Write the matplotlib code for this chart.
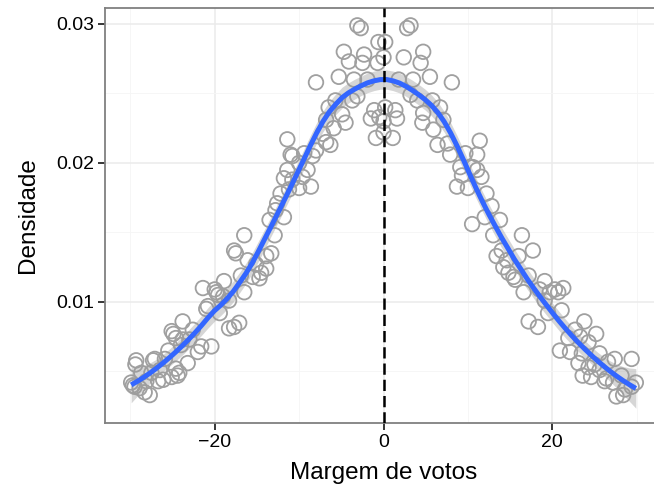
import numpy as np
import matplotlib
matplotlib.use('Agg')
import matplotlib.pyplot as plt

# pontos (margem de votos, densidade)
margem = [-29.9, -29.7, -29.5, -29.4, -29.3, -28.9, -28.7, -28.3, -28.1, -27.7,
          -27.5, -27.3, -27.1, -26.7, -26.5, -26.1, -25.9, -25.5, -25.1, -25.1,
          -24.9, -24.6, -24.6, -24.4, -24.2, -24.0, -23.8, -23.8, -23.2, -23.0,
          -22.6, -22.0, -21.6, -21.4, -21.0, -20.8, -20.4, -20.0, -19.8, -19.6,
          -19.4, -19.0, -18.9, -18.3, -18.3, -17.7, -17.5, -17.7, -17.1, -16.9,
          -16.5, -16.5, -16.1, -15.5, -15.1, -14.7, -14.5, -13.9, -13.9, -13.5,
          -13.3, -12.9, -12.8, -12.6, -12.2, -11.8, -11.8, -11.4, -11.4, -11.2,
          -11.0, -10.8, -10.8, -10.0, -10.0, -9.6, -9.4, -9.0, -8.6, -8.4,
          -8.0, -8.0, -7.2, -6.8, -6.8, -6.5, -6.3, -5.9, -5.7, -5.3,
          -4.9, -4.7, -4.5, -4.1, -3.7, -3.5, -3.1, -3.1, -2.7, -2.5,
          -2.3, -1.9, -1.5, -1.1, -0.9, -0.7, -0.6, -0.5, 0.0, 0.0,
          0.0, 0.2, 0.2, 1.1, 1.4, 1.6, 1.8, 2.4, 2.8, 3.2,
          3.2, 3.5, 4.0, 4.4, 4.6, 4.7, 4.7, 5.5, 5.8, 5.9,
          6.4, 6.7, 7.1, 7.6, 7.9, 8.1, 8.7, 9.1, 9.3, 9.7,
          10.0, 10.5, 10.6, 11.1, 11.1, 11.4, 11.6, 12.0, 12.2, 12.8,
          13.0, 13.4, 13.8, 14.0, 14.2, 14.6, 14.8, 15.4, 15.6, 16.0,
          16.4, 16.6, 17.2, 17.2, 17.7, 18.3, 18.5, 19.1, 19.1, 19.5,
          19.7, 20.3, 20.7, 20.9, 21.1, 21.3, 21.9, 22.1, 22.7, 23.1,
          23.3, 23.5, 23.6, 23.8, 24.3, 24.3, 24.6, 25.0, 25.2, 25.6,
          25.6, 26.2, 26.4, 26.6, 27.2, 27.4, 27.6, 28.2, 28.4, 28.6,
          29.4, 29.4, 29.9]
densidade = [0.0042, 0.0040, 0.0039, 0.0055, 0.0058, 0.0038, 0.0049, 0.0035, 0.0043, 0.0033,
             0.0049, 0.0058, 0.0059, 0.0043, 0.0051, 0.0044, 0.0059, 0.0065, 0.0079, 0.0046,
             0.0077, 0.0074, 0.0052, 0.0047, 0.0049, 0.0069, 0.0086, 0.0073, 0.0056, 0.0073,
             0.0080, 0.0064, 0.0068, 0.0110, 0.0095, 0.0097, 0.0068, 0.0109, 0.0107, 0.0105,
             0.0092, 0.0104, 0.0115, 0.0101, 0.0081, 0.0137, 0.0135, 0.0082, 0.0085, 0.0119,
             0.0148, 0.0107, 0.0130, 0.0118, 0.0127, 0.0117, 0.0121, 0.0133, 0.0124, 0.0159,
             0.0135, 0.0148, 0.0166, 0.0171, 0.0178, 0.0189, 0.0161, 0.0195, 0.0217, 0.0181,
             0.0206, 0.0205, 0.0188, 0.0200, 0.0182, 0.0190, 0.0207, 0.0195, 0.0183, 0.0205,
             0.0209, 0.0258, 0.0221, 0.0231, 0.0215, 0.0240, 0.0213, 0.0225, 0.0245, 0.0262,
             0.0235, 0.0280, 0.0229, 0.0273, 0.0245, 0.0260, 0.0299, 0.0248, 0.0297, 0.0272,
             0.0278, 0.0260, 0.0232, 0.0238, 0.0218, 0.0272, 0.0287, 0.0233, 0.0276, 0.0230,
             0.0222, 0.0287, 0.0240, 0.0218, 0.0238, 0.0232, 0.0260, 0.0276, 0.0297, 0.0299,
             0.0249, 0.0260, 0.0245, 0.0272, 0.0229, 0.0280, 0.0236, 0.0262, 0.0245, 0.0224,
             0.0213, 0.0240, 0.0231, 0.0214, 0.0206, 0.0258, 0.0183, 0.0197, 0.0191, 0.0207,
             0.0182, 0.0156, 0.0197, 0.0206, 0.0195, 0.0216, 0.0190, 0.0161, 0.0178, 0.0169,
             0.0148, 0.0133, 0.0159, 0.0137, 0.0125, 0.0130, 0.0121, 0.0118, 0.0116, 0.0133,
             0.0148, 0.0107, 0.0119, 0.0086, 0.0137, 0.0082, 0.0109, 0.0115, 0.0101, 0.0092,
             0.0107, 0.0109, 0.0107, 0.0065, 0.0094, 0.0110, 0.0074, 0.0064, 0.0080, 0.0056,
             0.0075, 0.0063, 0.0047, 0.0086, 0.0071, 0.0053, 0.0046, 0.0055, 0.0077, 0.0063,
             0.0051, 0.0043, 0.0045, 0.0057, 0.0042, 0.0059, 0.0032, 0.0047, 0.0033, 0.0037,
             0.0059, 0.0039, 0.0042]

x = np.array(margem)
y = np.array(densidade)
SPAN = 0.35


# loess local (grau 2), pesos tricubicos
def pesos(x0, span=SPAN):
    d = np.abs(x - x0)
    h = np.sort(d)[int(np.floor(len(x) * span)) - 1]
    return np.clip(1 - (d / h) ** 3, 0, None) ** 3


def linha_l(x0):
    w = pesos(x0)
    A = np.column_stack([np.ones_like(x), x - x0, (x - x0) ** 2])
    AtW = A.T * w
    return np.linalg.solve(AtW @ A, AtW)[0]


L = np.array([linha_l(v) for v in x])
res = y - L @ y
sigma = np.sqrt(np.sum(res ** 2) / (len(x) - np.trace(L)))

grade = np.linspace(x.min(), x.max(), 80)
Lg = np.array([linha_l(v) for v in grade])
ajuste = Lg @ y
se = sigma * np.sqrt(np.sum(Lg ** 2, axis=1))

plt.rcParams['font.family'] = ['Liberation Sans', 'DejaVu Sans']
fig = plt.figure(figsize=(6.54, 4.95), dpi=100)
ax = fig.add_axes([105 / 654, 72 / 495, 557 / 654, 415 / 495])

ax.scatter(x, y, s=110, facecolors='none', edgecolors='#a0a0a0', linewidths=1.3, zorder=3)
ax.fill_between(grade, ajuste - 1.97 * se, ajuste + 1.97 * se, color='#999999', alpha=0.4,
                linewidth=0, zorder=4)
ax.plot(grade, ajuste, color='#3366FF', lw=3.6, zorder=5, solid_capstyle='butt')
ax.axvline(0, color='black', lw=1.8, linestyle=(0, (4.5, 2)), zorder=6)

ax.set_xlim(-33, 33)
ax.set_ylim(0.00129, 0.03115)
ax.set_xticks([-20, 0, 20])
ax.set_xticks([-30, -10, 10, 30], minor=True)
ax.set_yticks([0.01, 0.02, 0.03])
ax.set_yticks([0.005, 0.015, 0.025], minor=True)
ax.set_yticklabels(['0.01', '0.02', '0.03'])
ax.grid(which='major', color='#EBEBEB', lw=1.1, zorder=0)
ax.grid(which='minor', color='#F5F5F5', lw=0.6, zorder=0)
ax.set_axisbelow(True)
ax.tick_params(which='major', length=5, width=1.1, color='black', labelsize=14,
               labelcolor='black', pad=3)
ax.tick_params(which='minor', length=0)
for s in ax.spines.values():
    s.set_color('#808080')
    s.set_linewidth(1.3)

ax.set_xlabel('Margem de votos', fontsize=17.5, labelpad=8)
ax.set_ylabel('Densidade', fontsize=17.5, labelpad=12)

fig.savefig('out.png', dpi=100)
